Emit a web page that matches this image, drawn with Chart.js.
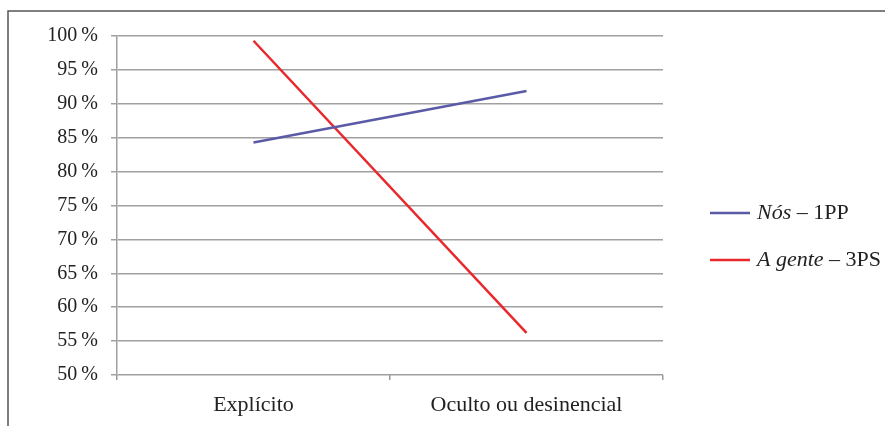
<!DOCTYPE html>
<html><head><meta charset="utf-8">
<script src="https://cdn.jsdelivr.net/npm/chart.js@4"></script>
<style>html,body{margin:0;padding:0;background:#fff}#wrap{position:relative;width:885px;height:426px}</style>
</head><body><div id="wrap"><canvas id="c" width="885" height="426"></canvas></div>
<script>
const categories = ["Explícito", "Oculto ou desinencial"];
const nosValues = [84.3, 91.9];
const agenteValues = [99.3, 56.2];
const seriesNames = [["Nós", " – 1PP"], ["A gente", " – 3PS"]];
const seriesColors = ["#5a5aa6", "#e8282c"];
const yMin = 50, yMax = 100, yStep = 5;

const FONT = "'Liberation Serif', 'DejaVu Serif', serif";

const framePlugin = {
  id: 'frame',
  beforeDraw(chart) {
    const ctx = chart.ctx;
    ctx.save();
    ctx.strokeStyle = '#555';
    ctx.lineWidth = 1.5;
    ctx.beginPath();
    ctx.moveTo(8, 426);
    ctx.lineTo(8, 11);
    ctx.lineTo(885, 11);
    ctx.stroke();
    ctx.restore();
  },
  afterDraw(chart) {
    const ctx = chart.ctx;
    ctx.save();
    chart.data.datasets.forEach((ds, i) => {
      const y = 213 + i * 47;
      ctx.strokeStyle = ds.borderColor;
      ctx.lineWidth = 2.5;
      ctx.beginPath();
      ctx.moveTo(710, y);
      ctx.lineTo(750, y);
      ctx.stroke();
      ctx.fillStyle = '#222';
      ctx.textBaseline = 'middle';
      ctx.textAlign = 'left';
      ctx.font = "italic 22px " + FONT;
      ctx.fillText(seriesNames[i][0], 757, y);
      const w = ctx.measureText(seriesNames[i][0]).width;
      ctx.font = "22px " + FONT;
      ctx.fillText(seriesNames[i][1], 757 + w, y);
    });
    ctx.restore();
  }
};

new Chart(document.getElementById('c'), {
  type: 'line',
  data: {
    labels: categories,
    datasets: [
      { label: seriesNames[0].join(''), data: nosValues, borderColor: seriesColors[0], borderWidth: 2.5, pointRadius: 0, tension: 0 },
      { label: seriesNames[1].join(''), data: agenteValues, borderColor: seriesColors[1], borderWidth: 2.5, pointRadius: 0, tension: 0 }
    ]
  },
  options: {
    responsive: false,
    animation: false,
    layout: { padding: { left: 0, right: 222, top: 36, bottom: 0 } },
    plugins: { legend: { display: false }, tooltip: { enabled: false } },
    scales: {
      x: {
        offset: true,
        grid: { display: true, drawOnChartArea: false, drawTicks: true, tickLength: 5, offset: true, color: '#999', lineWidth: 1.5 },
        border: { display: false },
        ticks: { color: '#222', font: { family: FONT, size: 22 }, padding: 12 },
        afterFit(s) { s.height = 51; }
      },
      y: {
        min: yMin, max: yMax,
        grid: { color: '#a0a0a0', lineWidth: 1.5, tickLength: 6 },
        border: { display: true, color: '#a0a0a0', width: 1.5 },
        ticks: { stepSize: yStep, color: '#222', font: { family: FONT, size: 20 }, padding: 13, callback: v => v + '\u2009%' },
        afterFit(s) { s.width = 117; }
      }
    }
  },
  plugins: [framePlugin]
});
</script></body></html>
